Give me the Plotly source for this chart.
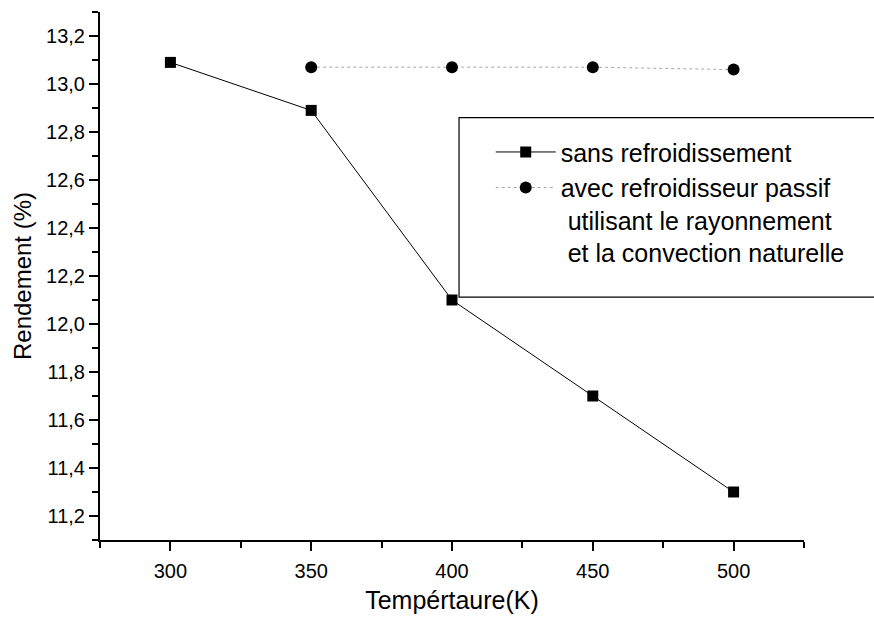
import plotly.graph_objects as go

# Data (corrected for slight scan rotation)
temp_sans = [300, 350, 400, 450, 500]
rend_sans = [13.09, 12.89, 12.10, 11.70, 11.30]
temp_avec = [350, 400, 450, 500]
rend_avec = [13.07, 13.07, 13.07, 13.06]

name_sans = "sans refroidissement"
name_avec = "avec refroidisseur passif<br> utilisant le rayonnement<br> et la convection naturelle"

FONT = "Liberation Sans, Arial, sans-serif"

fig = go.Figure()
fig.add_trace(go.Scatter(
    x=temp_sans, y=rend_sans, mode="lines+markers", name=name_sans,
    line=dict(color="black", width=1),
    marker=dict(symbol="square", size=11, color="black"),
))
fig.add_trace(go.Scatter(
    x=temp_avec, y=rend_avec, mode="lines+markers", name=name_avec,
    line=dict(color="#a8a8a8", width=1, dash="dot"),
    marker=dict(symbol="circle", size=12, color="black"),
))

fig.update_layout(
    width=874, height=635,
    margin=dict(l=100, r=70, t=12, b=95),
    paper_bgcolor="white", plot_bgcolor="white",
    separators=", ",
    font=dict(family=FONT, size=20, color="black"),
    showlegend=True,
    legend=dict(
        x=0.555, y=0.778, xanchor="left", yanchor="top",
        bgcolor="rgba(0,0,0,0)", borderwidth=0,
        font=dict(family=FONT, size=25, color="black"),
        itemwidth=60, valign="top", tracegroupgap=0,
    ),
    shapes=[dict(
        type="rect", xref="paper", yref="paper",
        x0=0.51, x1=1.12, y0=0.46, y1=0.80,
        line=dict(color="black", width=1.2), fillcolor="rgba(0,0,0,0)",
    )],
)

fig.update_xaxes(
    range=[275, 525], tickmode="linear", tick0=300, dtick=50,
    showgrid=False, zeroline=False,
    showline=True, linecolor="black", linewidth=2, mirror=False,
    ticks="outside", ticklen=9, tickwidth=2, tickcolor="black",
    minor=dict(ticks="outside", ticklen=6, tickwidth=2, tickcolor="black",
               dtick=25, tick0=275, showgrid=False),
    tickfont=dict(family=FONT, size=20),
    ticklabelstandoff=3,
    title=dict(text="Tempértaure(K)", font=dict(family=FONT, size=25), standoff=10),
)
fig.update_yaxes(
    range=[11.1, 13.3], tickmode="linear", tick0=11.2, dtick=0.2,
    tickformat=".1f",
    showgrid=False, zeroline=False,
    showline=True, linecolor="black", linewidth=2, mirror=False,
    ticks="outside", ticklen=9, tickwidth=2, tickcolor="black",
    minor=dict(ticks="outside", ticklen=6, tickwidth=2, tickcolor="black",
               dtick=0.1, tick0=11.1, showgrid=False),
    tickfont=dict(family=FONT, size=20),
    title=dict(text="Rendement (%)", font=dict(family=FONT, size=24), standoff=8),
)

fig.write_html("out.html")
